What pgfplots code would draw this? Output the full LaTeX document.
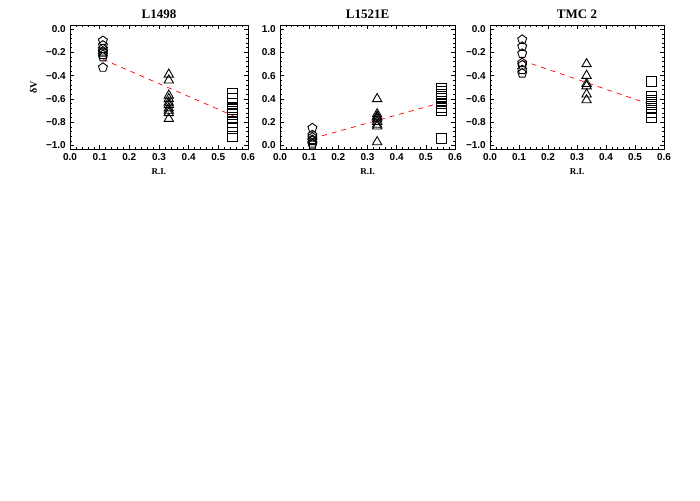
\documentclass[border=0pt]{standalone}
\usepackage{fontspec}
\setmainfont{Liberation Serif}
\setsansfont{Liberation Sans}
\usepackage{pgfplots}
\pgfplotsset{compat=1.18}

% IDL-like panel look
\pgfplotsset{
  every axis title/.style={at={(0.5,1)}, anchor=base, inner sep=0pt, yshift=6pt,
    font=\rmfamily\bfseries\fontsize{13}{14}\selectfont},
  idlpanel/.style={
    anchor=south west, scale only axis, height=124pt,
    xmin=0, xmax=0.6,
    xtick={0,0.1,0.2,0.3,0.4,0.5,0.6},
    xticklabels={0.0,0.1,0.2,0.3,0.4,0.5,0.6},
    minor x tick num=4, minor y tick num=4,
    tick align=inside,
    major tick length=4pt, minor tick length=2pt,
    axis line style={black, line width=0.5pt},
    every tick/.style={black, line width=0.4pt},
    ticklabel style={font=\sffamily\bfseries\fontsize{10}{11}\selectfont},
    xticklabel style={anchor=north, inner sep=0pt, yshift=-4pt},
    yticklabel style={anchor=east, inner sep=0pt, xshift=-4pt},
    xlabel={R.I.},
    xlabel style={font=\rmfamily\bfseries\fontsize{9}{10}\selectfont, at={(0.5,0)}, anchor=base, inner sep=0pt, yshift=-26pt},
    mark options={solid, black, line width=0.9pt, fill=none},
  },
  negy/.style={
    ymin=-1.03, ymax=0.035,
    ytick={-1,-0.8,-0.6,-0.4,-0.2,0},
    yticklabels={−1.0,−0.8,−0.6,−0.4,−0.2,0.0},
  },
  pent/.style={only marks, mark=pentagon, mark size=4.7pt},
  tri/.style={only marks, mark=triangle, mark size=5.4pt},
  sq/.style={only marks, mark=square, mark size=5pt},
  fitline/.style={no marks, red, line width=0.7pt, dash pattern=on 5pt off 5pt},
}

\begin{document}
\begin{tikzpicture}
\path[use as bounding box] (0pt,0pt) rectangle (700pt,500pt);

% L1498
\begin{axis}[idlpanel, negy, at={(70pt,351pt)}, width=178pt, title={L1498},
  ylabel={δV},
  ylabel style={font=\rmfamily\bfseries\fontsize{10}{11}\selectfont, at={(axis description cs:-0.205,0.5)}, anchor=center, inner sep=0pt}]
\addplot[pent] coordinates {
  (0.111,-0.10) (0.111,-0.14) (0.111,-0.17) (0.111,-0.19) (0.111,-0.20)
  (0.111,-0.22) (0.111,-0.24) (0.111,-0.33)
};
\addplot[tri] coordinates {
  (0.333,-0.39) (0.333,-0.44) (0.333,-0.57) (0.333,-0.60) (0.333,-0.63)
  (0.333,-0.65) (0.333,-0.68) (0.333,-0.70) (0.333,-0.72) (0.333,-0.77)
};
\addplot[sq] coordinates {
  (0.548,-0.55) (0.548,-0.60) (0.548,-0.64) (0.548,-0.67) (0.548,-0.69)
  (0.548,-0.71) (0.548,-0.73) (0.548,-0.76) (0.548,-0.80) (0.548,-0.85)
  (0.548,-0.92)
};
\addplot[fitline] coordinates {(0.111,-0.26) (0.555,-0.75)};
\end{axis}

% L1521E
\begin{axis}[idlpanel, at={(280pt,351pt)}, width=175pt, title={L1521E},
  ymin=-0.03, ymax=1.035,
  ytick={0,0.2,0.4,0.6,0.8,1},
  yticklabels={0.0,0.2,0.4,0.6,0.8,1.0}]
\addplot[pent] coordinates {
  (0.111,0.15) (0.111,0.09) (0.111,0.07) (0.111,0.05) (0.111,0.04)
  (0.111,0.02) (0.111,0.01)
};
\addplot[tri] coordinates {
  (0.333,0.40) (0.333,0.27) (0.333,0.25) (0.333,0.24) (0.333,0.225)
  (0.333,0.205) (0.333,0.18) (0.333,0.165) (0.333,0.03)
};
\addplot[sq] coordinates {
  (0.555,0.49) (0.555,0.46) (0.555,0.44) (0.555,0.42) (0.555,0.40)
  (0.555,0.38) (0.555,0.36) (0.555,0.33) (0.555,0.30) (0.555,0.06)
};
\addplot[fitline] coordinates {(0.111,0.06) (0.555,0.37)};
\end{axis}

% TMC 2
\begin{axis}[idlpanel, negy, at={(490pt,351pt)}, width=174pt, title={TMC 2}]
\addplot[pent] coordinates {
  (0.111,-0.09) (0.111,-0.15) (0.111,-0.21) (0.111,-0.29) (0.111,-0.31)
  (0.111,-0.35) (0.111,-0.38)
};
\addplot[tri] coordinates {
  (0.333,-0.30) (0.333,-0.40) (0.333,-0.47) (0.333,-0.49) (0.333,-0.56)
  (0.333,-0.61)
};
\addplot[sq] coordinates {
  (0.558,-0.45) (0.558,-0.58) (0.558,-0.61) (0.558,-0.63) (0.558,-0.65)
  (0.558,-0.68) (0.558,-0.72) (0.558,-0.76)
};
\addplot[fitline] coordinates {(0.111,-0.27) (0.555,-0.65)};
\end{axis}
\end{tikzpicture}
\end{document}
